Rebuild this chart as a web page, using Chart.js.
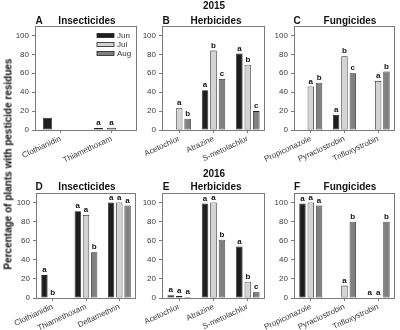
<!DOCTYPE html>
<html>
<head>
<meta charset="utf-8">
<script src="https://cdn.jsdelivr.net/npm/chart.js@4"></script>
<style>
  body { margin: 0; background: #fff; }
  #wrap { position: relative; width: 400px; height: 330px; background: #fff; font-family: "Liberation Sans", Arial, sans-serif; }
  #wrap canvas { position: absolute; }
  .txt { position: absolute; transform: translate(-50%, -50%); font-weight: bold; color: #111; white-space: nowrap; }
</style>
</head>
<body>
<div id="wrap">
  <canvas id="chartA"></canvas>
  <canvas id="chartB"></canvas>
  <canvas id="chartC"></canvas>
  <canvas id="chartD"></canvas>
  <canvas id="chartE"></canvas>
  <canvas id="chartF"></canvas>

  <div class="txt" style="left:214px;top:5px;font-size:10px">2015</div>
  <div class="txt" style="left:214px;top:173px;font-size:10px">2016</div>

  <div class="txt" style="left:39px;top:20px;font-size:10px">A</div>
  <div class="txt" style="left:87px;top:20px;font-size:10px">Insecticides</div>
  <div class="txt" style="left:166px;top:20px;font-size:10px">B</div>
  <div class="txt" style="left:216px;top:20px;font-size:10px">Herbicides</div>
  <div class="txt" style="left:297px;top:20px;font-size:10px">C</div>
  <div class="txt" style="left:350px;top:20px;font-size:10px">Fungicides</div>

  <div class="txt" style="left:39px;top:186px;font-size:10px">D</div>
  <div class="txt" style="left:87px;top:186px;font-size:10px">Insecticides</div>
  <div class="txt" style="left:166px;top:186px;font-size:10px">E</div>
  <div class="txt" style="left:216px;top:186px;font-size:10px">Herbicides</div>
  <div class="txt" style="left:297px;top:186px;font-size:10px">F</div>
  <div class="txt" style="left:350px;top:186px;font-size:10px">Fungicides</div>

  <div class="txt" style="left:8px;top:164px;font-size:10px;transform:translate(-50%,-50%) rotate(-90deg)">Percentage of plants with pesticide residues</div>
</div>

<script>
// months / series
const months = ["Jun", "Jul", "Aug"];
const monthColors = ["#1e1e1e", "#d4d4d4", "#808080"];
const yTicks = [0, 20, 40, 60, 80, 100];

// 2015 - A Insecticides
const insect15Cats = ["Clothianidin", "Thiamethoxam"];
const insect15Jun = [13, 2];
const insect15Jul = [0, 2.5];
const insect15Aug = [0, 0];
const insect15SigJun = ["", "a"];
const insect15SigJul = ["", "a"];
const insect15SigAug = ["", ""];

// 2015 - B Herbicides
const herb15Cats = ["Acetochlor", "Atrazine", "S-metolachlor"];
const herb15Jun = [0, 42, 81];
const herb15Jul = [23, 84, 69];
const herb15Aug = [12, 54, 20];
const herb15SigJun = ["", "a", "a"];
const herb15SigJul = ["a", "b", "b"];
const herb15SigAug = ["b", "c", "c"];

// 2015 - C Fungicides
const fung15Cats = ["Propiconazole", "Pyraclostrobin", "Trifloxystrobin"];
const fung15Jun = [0, 16, 0];
const fung15Jul = [46, 78, 52];
const fung15Aug = [50, 60, 62];
const fung15SigJun = ["", "a", ""];
const fung15SigJul = ["a", "b", "a"];
const fung15SigAug = ["b", "c", "b"];

// 2016 - D Insecticides
const insect16Cats = ["Clothianidin", "Thiamethoxam", "Deltamethrin"];
const insect16Jun = [24, 91, 100];
const insect16Jul = [0.5, 87, 100];
const insect16Aug = [0, 48, 97];
const insect16SigJun = ["a", "a", "a"];
const insect16SigJul = ["b", "a", "a"];
const insect16SigAug = ["", "b", "a"];

// 2016 - E Herbicides
const herb16Cats = ["Acetochlor", "Atrazine", "S-metolachlor"];
const herb16Jun = [3, 99, 54];
const herb16Jul = [2, 100, 17];
const herb16Aug = [1, 61, 6];
const herb16SigJun = ["a", "a", "a"];
const herb16SigJul = ["a", "a", "b"];
const herb16SigAug = ["a", "b", "c"];

// 2016 - F Fungicides
const fung16Cats = ["Propiconazole", "Pyraclostrobin", "Trifloxystrobin"];
const fung16Jun = [99, 0, 0];
const fung16Jul = [100, 13, 0];
const fung16Aug = [97, 80, 80];
const fung16SigJun = ["a", "", "a"];
const fung16SigJul = ["a", "a", "a"];
const fung16SigAug = ["a", "b", "b"];

const FONT = "'Liberation Sans', Arial, sans-serif";

// box around plot area
const framePlugin = {
    id: "frame",
    afterDraw(chart) {
        const { ctx, chartArea: a } = chart;
        ctx.save();
        ctx.strokeStyle = "#7a7a7a";
        ctx.lineWidth = 1;
        ctx.strokeRect(Math.round(a.left) + 0.5, Math.round(a.top) + 0.5,
            Math.round(a.right - a.left) - 1, Math.round(a.bottom - a.top));
        ctx.restore();
    }
};

// significance letters above bars
const sigPlugin = {
    id: "sig",
    afterDatasetsDraw(chart) {
        const ctx = chart.ctx;
        ctx.save();
        ctx.font = "bold 8px " + FONT;
        ctx.fillStyle = "#111";
        ctx.textAlign = "center";
        ctx.textBaseline = "bottom";
        chart.data.datasets.forEach((ds, i) => {
            chart.getDatasetMeta(i).data.forEach((bar, j) => {
                const s = ds.sig[j];
                if (s) ctx.fillText(s, bar.x, bar.y - 1);
            });
        });
        ctx.restore();
    }
};

// legend only in panel A
const legendPlugin = {
    id: "monthLegend",
    afterDraw(chart) {
        const ctx = chart.ctx;
        const a = chart.chartArea;
        ctx.save();
        ctx.font = "8px " + FONT;
        ctx.textBaseline = "middle";
        chart.data.datasets.forEach((ds, i) => {
            const y = a.top + 9.5 + i * 9;
            const x = a.right - 40;
            ctx.fillStyle = ds.backgroundColor;
            ctx.fillRect(x, y - 2, 17, 4);
            ctx.strokeStyle = "#222";
            ctx.lineWidth = 0.8;
            ctx.strokeRect(x, y - 2, 17, 4);
            ctx.fillStyle = "#333";
            ctx.fillText(ds.label, x + 20, y);
        });
        ctx.restore();
    }
};

function makePanel(id, rect, cats, series, sigs, catPct, barPct, withLegend) {
    const cv = document.getElementById(id);
    const padL = 5, yW = 30, padT = 12, padR = 4, xH = 48;
    const w = rect.x2 - rect.x1 + yW + padL + padR;
    const h = rect.y2 - rect.y1 + padT + xH;
    cv.style.left = (rect.x1 - yW - padL) + "px";
    cv.style.top = (rect.y1 - padT) + "px";
    cv.width = w; cv.height = h;
    cv.style.width = w + "px"; cv.style.height = h + "px";

    const plugins = [framePlugin, sigPlugin];
    if (withLegend) plugins.push(legendPlugin);

    return new Chart(cv, {
        type: "bar",
        data: {
            labels: cats,
            datasets: months.map((m, i) => ({
                label: m,
                data: series[i],
                sig: sigs[i],
                backgroundColor: monthColors[i],
                borderColor: "#222",
                borderWidth: ctx => (ctx.raw > 0 ? 0.8 : 0),
                borderSkipped: false,
                categoryPercentage: catPct,
                barPercentage: barPct
            }))
        },
        options: {
            responsive: false,
            animation: false,
            devicePixelRatio: 1,
            layout: { padding: { left: padL, top: padT, right: padR, bottom: 0 } },
            plugins: { legend: { display: false }, tooltip: { enabled: false } },
            scales: {
                x: {
                    grid: { display: true, drawOnChartArea: false, offset: false, tickLength: 3, color: "#7a7a7a" },
                    border: { display: false },
                    ticks: {
                        minRotation: 25, maxRotation: 25, padding: 1,
                        color: "#3a3a3a", font: { family: FONT, size: 8 }
                    },
                    afterFit: s => { s.height = xH; }
                },
                y: {
                    min: 0, max: 110,
                    grid: { display: true, drawOnChartArea: false, tickLength: 3, color: "#7a7a7a" },
                    border: { display: false },
                    ticks: { stepSize: 20, padding: 3, color: "#3a3a3a", font: { family: FONT, size: 8 } },
                    afterBuildTicks: s => { s.ticks = yTicks.map(v => ({ value: v })); },
                    afterFit: s => { s.width = yW; }
                }
            }
        },
        plugins: plugins
    });
}

document.addEventListener("DOMContentLoaded", () => {
    const top = { y1: 26, y2: 130 };
    const bot = { y1: 193, y2: 298 };
    makePanel("chartA", { x1: 35, x2: 137, ...top }, insect15Cats,
        [insect15Jun, insect15Jul, insect15Aug], [insect15SigJun, insect15SigJul, insect15SigAug], 0.77, 0.69, true);
    makePanel("chartB", { x1: 162, x2: 265, ...top }, herb15Cats,
        [herb15Jun, herb15Jul, herb15Aug], [herb15SigJun, herb15SigJul, herb15SigAug], 0.74, 0.77, false);
    makePanel("chartC", { x1: 293, x2: 395, ...top }, fung15Cats,
        [fung15Jun, fung15Jul, fung15Aug], [fung15SigJun, fung15SigJul, fung15SigAug], 0.74, 0.77, false);
    makePanel("chartD", { x1: 36, x2: 136, ...bot }, insect16Cats,
        [insect16Jun, insect16Jul, insect16Aug], [insect16SigJun, insect16SigJul, insect16SigAug], 0.74, 0.77, false);
    makePanel("chartE", { x1: 162, x2: 265, ...bot }, herb16Cats,
        [herb16Jun, herb16Jul, herb16Aug], [herb16SigJun, herb16SigJul, herb16SigAug], 0.74, 0.77, false);
    makePanel("chartF", { x1: 293, x2: 395, ...bot }, fung16Cats,
        [fung16Jun, fung16Jul, fung16Aug], [fung16SigJun, fung16SigJul, fung16SigAug], 0.74, 0.77, false);
});
</script>
</body>
</html>
